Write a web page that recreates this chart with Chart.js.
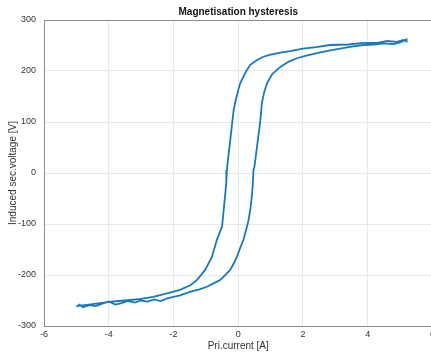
<!DOCTYPE html>
<html>
<head>
<meta charset="utf-8">
<script src="https://cdn.jsdelivr.net/npm/chart.js@4.4.1/dist/chart.umd.min.js"></script>
<style>
  html, body { margin: 0; padding: 0; background: #fff; overflow: hidden; }
  #wrap { width: 438px; height: 352px; }
</style>
</head>
<body>
<div id="wrap"><canvas id="myChart"></canvas></div>
<script>
// current [A] and voltage [V], rising branch then falling branch
const riseCurrent = [-5.0, -4.9, -4.8, -4.6, -4.4, -4.2, -4.0, -3.8, -3.6, -3.4, -3.2, -3.0, -2.8, -2.6, -2.4, -2.2, -2.0, -1.8, -1.5, -1.2, -0.97, -0.75, -0.56, -0.4, -0.25, -0.12, -0.04, 0.06, 0.16, 0.25, 0.32, 0.38, 0.42, 0.45, 0.47, 0.5, 0.54, 0.58, 0.62, 0.66, 0.7, 0.73, 0.8, 0.89, 1.05, 1.3, 1.55, 1.81, 2.1, 2.43, 2.8, 3.15, 3.5, 3.86, 4.2, 4.5, 4.8, 5.0, 5.2];
const riseVoltage = [-262, -258, -263, -259, -261, -256, -252, -258, -255, -251, -254, -250, -252, -248, -251, -246, -243, -240, -233, -228, -223, -216, -210, -200, -190, -175, -164, -147, -131, -110, -92, -68, -46, -20, 6, 12, 32, 52, 72, 91, 115, 137, 158, 176, 194, 208, 218, 225, 230, 235, 240, 244, 248, 251, 252, 254, 253, 256, 262];
const fallCurrent = [5.2, 5.1, 4.9, 4.6, 4.3, 3.86, 3.4, 2.84, 2.4, 2.0, 1.6, 1.3, 1.0, 0.77, 0.55, 0.37, 0.25, 0.16, 0.06, 0.0, -0.07, -0.14, -0.2, -0.27, -0.32, -0.35, -0.37, -0.4, -0.45, -0.5, -0.58, -0.66, -0.81, -1.02, -1.28, -1.48, -1.8, -2.2, -2.63, -3.0, -3.34, -3.7, -4.05, -4.5, -5.0];
const fallVoltage = [258, 261, 257, 259, 255, 255, 252, 251, 247, 244, 239, 236, 232, 228, 220, 212, 200, 189, 176, 163, 145, 124, 91, 52, 25, 6, -20, -40, -73, -105, -118, -131, -164, -190, -210, -220, -229, -236, -243, -247, -249, -251, -253, -257, -261];
const xTicks = [-6, -4, -2, 0, 2, 4, 6];
const yTicks = [-300, -200, -100, 0, 100, 200, 300];

const points = [];
riseCurrent.forEach((c, i) => points.push({ x: c, y: riseVoltage[i] }));
fallCurrent.forEach((c, i) => points.push({ x: c, y: fallVoltage[i] }));

const boxPlugin = {
    id: 'box',
    afterDraw(chart) {
        const a = chart.chartArea;
        const ctx = chart.ctx;
        ctx.save();
        ctx.strokeStyle = '#8a8a8a';
        ctx.lineWidth = 1;
        ctx.strokeRect(a.left + 0.5, a.top + 0.5, a.right - a.left, a.bottom - a.top);
        ctx.restore();
    }
};

const font = 'Liberation Sans, Arial, Helvetica, sans-serif';

new Chart(document.getElementById('myChart'), {
    type: 'scatter',
    data: {
        datasets: [{
            data: points,
            showLine: true,
            borderColor: '#1a78bd',
            borderWidth: 1.8,
            pointRadius: 0,
            tension: 0
        }]
    },
    options: {
        responsive: true,
        maintainAspectRatio: false,
        animation: false,
        layout: { padding: 0 },
        plugins: {
            legend: { display: false },
            tooltip: { enabled: false },
            title: {
                display: true,
                fullSize: false,
                text: 'Magnetisation hysteresis',
                color: '#111',
                font: { family: font, size: 10, weight: 'bold' },
                padding: { top: 6, bottom: 2 }
            }
        },
        scales: {
            x: {
                type: 'linear',
                min: -6, max: 6,
                afterBuildTicks: s => { s.ticks = xTicks.map(v => ({ value: v })); },
                afterFit: s => { s.height = 26; },
                grid: { color: '#e8e8e8', drawTicks: false },
                border: { color: '#8a8a8a' },
                ticks: { color: '#333', font: { family: font, size: 9 }, padding: 3 },
                title: { display: true, text: 'Pri.current [A]', color: '#333', font: { family: font, size: 10 }, padding: 0 }
            },
            y: {
                type: 'linear',
                min: -300, max: 300,
                afterBuildTicks: s => { s.ticks = yTicks.map(v => ({ value: v })); },
                afterFit: s => { s.width = 44; },
                grid: { color: '#e8e8e8', drawTicks: false },
                border: { color: '#8a8a8a' },
                ticks: { color: '#333', font: { family: font, size: 9 }, padding: 8 },
                title: { display: true, text: 'Induced sec.voltage [V]', color: '#333', font: { family: font, size: 10 }, padding: { top: 7, bottom: 0 } }
            }
        }
    },
    plugins: [boxPlugin]
});
</script>
</body>
</html>
